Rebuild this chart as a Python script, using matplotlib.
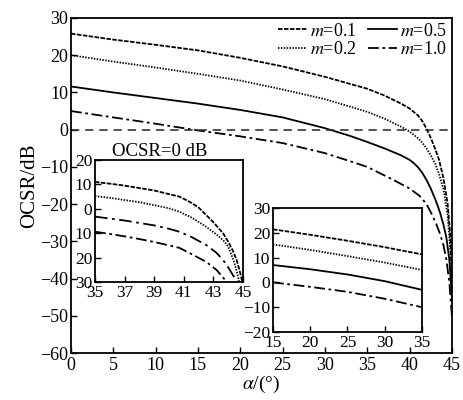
import numpy as np
import matplotlib
matplotlib.use("Agg")
import matplotlib.pyplot as plt

plt.rcParams['font.family'] = ['Liberation Serif', 'DejaVu Serif']
plt.rcParams['mathtext.fontset'] = 'stix'

# --- main plot data (alpha in degrees, OCSR in dB) ---
a_01 = [0, 5, 10, 15, 20, 25, 30, 35, 37, 39, 40, 41, 41.5, 42, 42.5, 43, 43.5, 44, 44.5, 44.8, 45]
m_01 = [25.8, 24.2, 22.8, 21.3, 19.3, 17.0, 14.2, 11.0, 9.2, 7.0, 5.7, 3.8, 2.3, 0.3, -2.2, -5.0, -8.2, -13.0, -20.0, -28.0, -40.0]

a_02 = [0, 5, 10, 15, 20, 25, 30, 35, 37, 39, 40, 41, 41.5, 42, 42.5, 43, 43.5, 44, 44.5, 44.8, 45]
m_02 = [20.0, 18.3, 16.7, 15.0, 13.2, 10.8, 8.2, 4.8, 3.0, 0.8, -0.5, -2.3, -3.5, -5.0, -6.9, -9.0, -12.0, -16.0, -23.0, -32.0, -45.0]

a_05 = [0, 5, 10, 15, 20, 25, 30, 33, 35, 37, 39, 40, 40.5, 41, 41.5, 42, 42.5, 43, 43.3, 43.6, 44, 44.35, 44.7, 45]
m_05 = [11.6, 10.0, 8.5, 7.0, 5.3, 3.3, 0.4, -1.7, -3.3, -5.0, -6.9, -8.1, -9.0, -10.1, -11.6, -13.5, -15.8, -18.5, -20.3, -22.3, -25.5, -29.0, -35.0, -45.0]

a_10 = [0, 5, 10, 15, 20, 25, 30, 33, 35, 36.5, 38, 40, 41.2, 42, 42.6, 43.2, 43.6, 44, 44.35, 44.7, 45]
m_10 = [5.0, 3.3, 1.6, -0.2, -1.8, -3.6, -6.3, -8.5, -10.0, -11.7, -13.4, -15.8, -17.8, -20.0, -22.6, -25.6, -28.0, -31.0, -35.0, -41.0, -50.0]

# --- inset 1 (35..45) ---
b_01 = [35, 36, 37, 38, 39, 40, 40.7, 41.5, 42, 42.5, 43, 43.65, 44, 44.3, 44.57, 44.8, 44.95]
n_01 = [11.0, 10.3, 9.5, 8.5, 7.5, 6.0, 5.0, 2.5, 0.5, -2.5, -5.5, -10.0, -13.5, -17.0, -21.0, -26.0, -30.0]
b_02 = [35, 36, 37, 38, 39, 40, 40.7, 41.5, 42.5, 43.2, 43.65, 44, 44.35, 44.55, 44.75]
n_02 = [5.2, 4.5, 3.6, 2.7, 1.5, 0.2, -1.2, -3.5, -7.3, -10.5, -12.8, -15.5, -21.0, -25.0, -30.0]
b_05 = [35, 36, 37, 38, 39, 40, 40.7, 41.5, 42.5, 43.2, 43.65, 44, 44.3, 44.6]
n_05 = [-3.2, -4.0, -4.8, -5.8, -6.8, -8.2, -9.4, -11.5, -14.8, -18.0, -21.0, -24.0, -27.0, -30.0]
b_10 = [35, 36, 37, 38, 39, 40, 40.7, 41.5, 42.5, 43.2, 43.6, 43.9]
n_10 = [-9.4, -10.3, -11.3, -12.4, -13.6, -15.0, -16.0, -18.5, -21.7, -25.0, -27.8, -30.0]

# --- inset 2 (15..35) ---
c_x = [15, 20, 25, 30, 35]
c_01 = [21.4, 19.2, 16.8, 14.2, 11.3]
c_02 = [15.3, 13.1, 10.6, 8.0, 5.0]
c_05 = [7.0, 5.3, 3.2, 0.5, -3.0]
c_10 = [0.0, -1.8, -3.8, -6.6, -10.0]

labels = ['$m$=0.1', '$m$=0.2', '$m$=0.5', '$m$=1.0']
ls_01 = (0, (2.5, 0.8))
ls_02 = (0, (0.8, 0.8))
ls_05 = '-'
ls_10 = (0, (6, 2, 1.5, 2))
lw = 1.3

fig = plt.figure(figsize=(4.63, 4.0), dpi=100)
ax = fig.add_axes([0.1533, 0.1175, 0.8227, 0.8375])


def style(a, fs=11):
    a.tick_params(direction='in', labelsize=fs, length=4, width=1.0,
                  top=False, right=False, pad=2)
    for s in a.spines.values():
        s.set_linewidth(1.3)


l1, = ax.plot(a_01, m_01, color='black', lw=lw, ls=ls_01)
l2, = ax.plot(a_02, m_02, color='black', lw=lw, ls=ls_02)
l3, = ax.plot(a_05, m_05, color='black', lw=lw, ls=ls_05)
l4, = ax.plot(a_10, m_10, color='black', lw=lw, ls=ls_10)
ax.axhline(0, color='#333333', lw=1.2, ls=(0, (5, 3.5)))
ax.set_xlim(0, 45)
ax.set_ylim(-60, 30)
ax.set_xticks(np.arange(0, 46, 5))
ax.set_yticks(np.arange(-60, 31, 10))
style(ax, 13)
ax.tick_params(axis='x', pad=3)
ax.set_xlabel(r'$\alpha$/(°)', fontsize=14, labelpad=0)
ax.set_ylabel('OCSR/dB', fontsize=15, labelpad=1)
ax.text(10.5, -6, 'OCSR=0 dB', fontsize=13.5, ha='center', va='center')
ax.legend([l1, l2, l3, l4], labels, loc='upper right', ncol=2, frameon=False,
          fontsize=13, handlelength=1.6, handletextpad=0.2, columnspacing=0.6,
          labelspacing=0.1, borderaxespad=0.1, borderpad=0.15)

# inset 1
ax1 = fig.add_axes([0.2052, 0.295, 0.3197, 0.305])
ax1.plot(b_01, n_01, color='black', lw=lw, ls=ls_01)
ax1.plot(b_02, n_02, color='black', lw=lw, ls=ls_02)
ax1.plot(b_05, n_05, color='black', lw=lw, ls=(0, (7, 2.5, 1.5, 2.5)))
ax1.plot(b_10, n_10, color='black', lw=lw, ls=ls_10)
ax1.set_xlim(35, 45)
ax1.set_ylim(-30, 20)
ax1.set_xticks(np.arange(35, 46, 2))
ax1.set_yticks(np.arange(-30, 21, 10))
ax1.set_yticklabels(['30', '20', '10', '0', '10', '20'])
style(ax1, 12.5)

# inset 2
ax2 = fig.add_axes([0.5896, 0.17, 0.3218, 0.31])
ax2.plot(c_x, c_01, color='black', lw=lw, ls=ls_01)
ax2.plot(c_x, c_02, color='black', lw=lw, ls=ls_02)
ax2.plot(c_x, c_05, color='black', lw=lw, ls=ls_05)
ax2.plot(c_x, c_10, color='black', lw=lw, ls=ls_10)
ax2.set_xlim(15, 35)
ax2.set_ylim(-20, 30)
ax2.set_xticks(np.arange(15, 36, 5))
ax2.set_yticks(np.arange(-20, 31, 10))
style(ax2, 12.5)

fig.savefig('out.png', dpi=100)
